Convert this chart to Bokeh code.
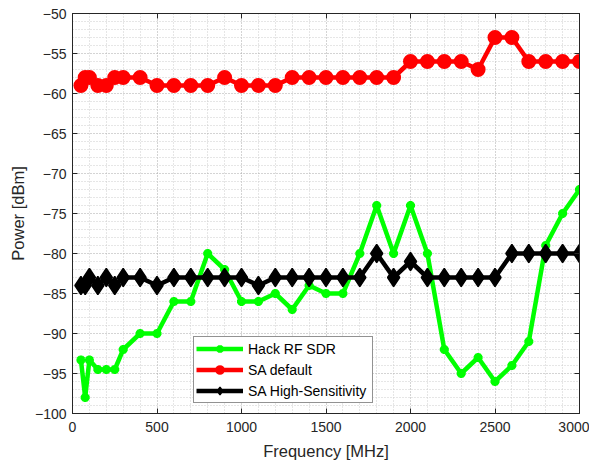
from bokeh.plotting import figure
from bokeh.models import (Range1d, LinearAxis, FixedTicker, Legend, LegendItem,
                          ColumnDataSource, CustomJSTickFormatter)
from bokeh.embed import file_html
from bokeh.resources import INLINE

freq = [50, 75, 100, 150, 200, 250, 300, 400, 500, 600, 700, 800, 900, 1000,
        1100, 1200, 1300, 1400, 1500, 1600, 1700, 1800, 1900, 2000, 2100, 2200,
        2300, 2400, 2500, 2600, 2700, 2800, 2900, 3000]

hackrf = [-93.3, -98, -93.3, -94.5, -94.5, -94.5, -92, -90, -90, -86, -86, -80,
          -82, -86, -86, -85, -87, -84, -85, -85, -80, -74, -80, -74, -80, -92,
          -95, -93, -96, -94, -91, -79, -75, -72]

sa_default = [-59, -58, -58, -59, -59, -58, -58, -58, -59, -59, -59, -59, -58,
              -59, -59, -59, -58, -58, -58, -58, -58, -58, -58, -56, -56, -56,
              -56, -57, -53, -53, -56, -56, -56, -56]

sa_hs = [-84, -84, -83, -84, -83, -84, -83, -83, -84, -83, -83, -83, -83, -83,
         -84, -83, -83, -83, -83, -83, -83, -80, -83, -81, -83, -83, -83, -83,
         -83, -80, -80, -80, -80, -80]

x_ticks = [0, 500, 1000, 1500, 2000, 2500, 3000]
y_ticks = [-100, -95, -90, -85, -80, -75, -70, -65, -60, -55, -50]

FONT = "Liberation Sans"
AXC = "#262626"

p = figure(frame_width=507, frame_height=400, output_backend="svg",
           toolbar_location=None, x_range=Range1d(0, 3000),
           y_range=Range1d(-100, -50),
           min_border_left=72, min_border_right=10, min_border_top=13,
           min_border_bottom=40)
p.background_fill_color = "white"
p.border_fill_color = "white"
p.outline_line_color = AXC
p.outline_line_width = 1

for ax, ticks in ((p.xaxis[0], x_ticks), (p.yaxis[0], y_ticks)):
    ax.ticker = FixedTicker(ticks=ticks, minor_ticks=[])
    ax.axis_line_color = AXC
    ax.major_tick_line_color = AXC
    ax.major_tick_in = 5
    ax.major_tick_out = 0
    ax.minor_tick_in = 0
    ax.minor_tick_out = 0
    ax.major_label_text_font = FONT
    ax.major_label_text_font_size = "14px"
    ax.major_label_text_color = AXC
    ax.axis_label_text_font = FONT
    ax.axis_label_text_font_size = "16.5px"
    ax.axis_label_text_font_style = "normal"
    ax.axis_label_text_color = AXC

p.xaxis[0].axis_label = "Frequency [MHz]"
p.yaxis[0].axis_label = "Power [dBm]"
p.xaxis[0].major_label_standoff = 8
p.xaxis[0].axis_label_standoff = 7
p.yaxis[0].major_label_standoff = 6
p.yaxis[0].axis_label_standoff = 5

# mirrored ticks on top and right
blank = CustomJSTickFormatter(code="return ''")
for loc, ticks in (("above", x_ticks), ("right", y_ticks)):
    ax = LinearAxis(ticker=FixedTicker(ticks=ticks, minor_ticks=[]),
                    formatter=blank, axis_line_color=AXC,
                    major_tick_line_color=AXC, major_tick_in=5,
                    major_tick_out=0, minor_tick_in=0, minor_tick_out=0,
                    major_label_standoff=0, major_label_text_font_size="1px")
    p.add_layout(ax, loc)

# grids
minor_x = [v for v in range(0, 3001, 100) if v % 500]
minor_y = [v for v in range(-100, -49) if v % 5]
p.xgrid.ticker = FixedTicker(ticks=x_ticks, minor_ticks=minor_x)
p.ygrid.ticker = FixedTicker(ticks=y_ticks, minor_ticks=minor_y)
for g in (p.xgrid[0], p.ygrid[0]):
    g.grid_line_color = "#a8a8a8"
    g.grid_line_dash = "1 2"
    g.grid_line_width = 1
    g.minor_grid_line_color = "#cccccc"
    g.minor_grid_line_dash = "1 2"
    g.minor_grid_line_width = 1

src = ColumnDataSource(dict(f=freq, h=hackrf, d=sa_default, s=sa_hs))

gl = p.line("f", "h", source=src, line_color="#00ff00", line_width=4.5)
gm = p.scatter("f", "h", source=src, marker="asterisk", size=9,
               line_color="#00ff00", line_width=3)
rl = p.line("f", "d", source=src, line_color="#ff0000", line_width=4.5)
rm = p.scatter("f", "d", source=src, marker="circle", size=13,
               fill_color="#ff0000", line_color="#ff0000", line_width=2)
bl = p.line("f", "s", source=src, line_color="#000000", line_width=4.5)
bm = p.scatter("f", "s", source=src, marker="diamond", size=18,
               fill_color="#000000", line_color="#000000", line_width=1.5)

legend = Legend(items=[
    LegendItem(label="Hack RF SDR", renderers=[gl, gm]),
    LegendItem(label="SA default", renderers=[rl, rm]),
    LegendItem(label="SA High-Sensitivity", renderers=[bl, bm]),
], location=(121, 10), orientation="vertical")
legend.label_text_font = FONT
legend.label_text_font_size = "14px"
legend.label_text_color = "#000000"
legend.glyph_width = 47
legend.glyph_height = 19
legend.label_standoff = 5
legend.label_height = 19
legend.label_width = 122
legend.spacing = 2
legend.padding = 2
legend.margin = 0
legend.border_line_color = AXC
legend.border_line_width = 1
legend.background_fill_color = "white"
legend.background_fill_alpha = 1
p.add_layout(legend, "center")

open("out.html", "w").write(file_html(p, INLINE))
